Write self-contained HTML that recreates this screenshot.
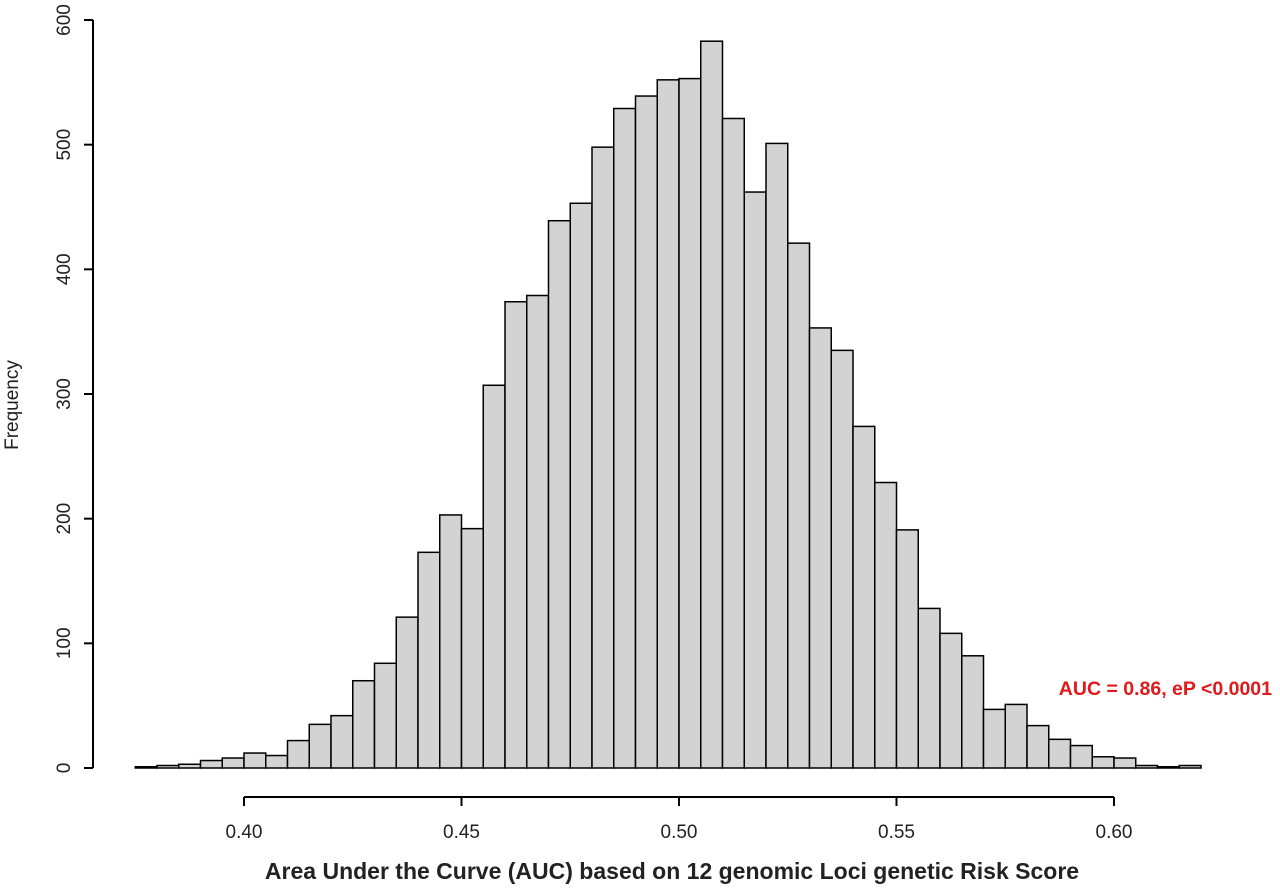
<!DOCTYPE html>
<html><head><meta charset="utf-8"><style>
body{margin:0;background:#fff}
svg{display:block;font-family:"Liberation Sans",Arial,sans-serif}
</style></head><body>
<svg id="chart" width="1280" height="888" viewBox="0 0 1280 888">
<g id="bars"></g>
<g id="xaxis"></g>
<g id="yaxis"></g>
<text x="672" y="879" text-anchor="middle" font-size="23" font-weight="bold" fill="#222">Area Under the Curve (AUC) based on 12 genomic Loci genetic Risk Score</text>
<text transform="translate(18,405) rotate(-90)" text-anchor="middle" font-size="19" fill="#222">Frequency</text>
<text x="1272" y="695" text-anchor="end" font-size="19.5" font-weight="bold" fill="#e0191c">AUC = 0.86, eP &lt;0.0001</text>
</svg>
<script>
const binStart = 0.375;
const binWidth = 0.005;
const counts = [1,2,3,6,8,12,10,22,35,42,70,84,121,173,203,192,307,374,379,439,453,498,529,539,552,553,583,521,462,501,421,353,335,274,229,191,128,108,90,47,51,34,23,18,9,8,2,1,2];
const xTicks = [0.40,0.45,0.50,0.55,0.60];
const xTickLabels = ["0.40","0.45","0.50","0.55","0.60"];
const yTicks = [0,100,200,300,400,500,600];
const yTickLabels = ["0","100","200","300","400","500","600"];
const NS="http://www.w3.org/2000/svg";
const xs = v => 244 + (v-0.40)*(1114-244)/0.20;
const ys = v => 768 - v*(768-20)/600;
function mk(tag,attrs,parent){const e=document.createElementNS(NS,tag);for(const k in attrs)e.setAttribute(k,attrs[k]);parent.appendChild(e);return e;}
const bars=document.getElementById('bars');
counts.forEach((c,i)=>{
  const x0=xs(binStart+i*binWidth), x1=xs(binStart+(i+1)*binWidth);
  const r=mk('rect',{x:x0,y:ys(c),width:x1-x0,height:ys(0)-ys(c),fill:'#d3d3d3',stroke:'#000','stroke-width':1.5},bars);
  
  
});
const xa=document.getElementById('xaxis');
mk('line',{x1:xs(xTicks[0]),x2:xs(xTicks[xTicks.length-1]),y1:797,y2:797,stroke:'#000','stroke-width':2},xa);
xTicks.forEach((t,i)=>{
  mk('line',{x1:xs(t),x2:xs(t),y1:797,y2:806,stroke:'#000','stroke-width':2},xa);
  const tx=mk('text',{x:xs(t),y:838,'text-anchor':'middle','font-size':19,fill:'#222'},xa);
  tx.textContent=xTickLabels[i];
  
  
});
const ya=document.getElementById('yaxis');
mk('line',{x1:93,x2:93,y1:ys(0),y2:ys(600),stroke:'#000','stroke-width':2},ya);
yTicks.forEach((t,i)=>{
  mk('line',{x1:84,x2:93,y1:ys(t),y2:ys(t),stroke:'#000','stroke-width':2},ya);
  const tx=mk('text',{transform:`translate(70,${ys(t)}) rotate(-90)`,'text-anchor':'middle','font-size':19,fill:'#222'},ya);
  tx.textContent=yTickLabels[i];
  
  
});
</script>
</body></html>
